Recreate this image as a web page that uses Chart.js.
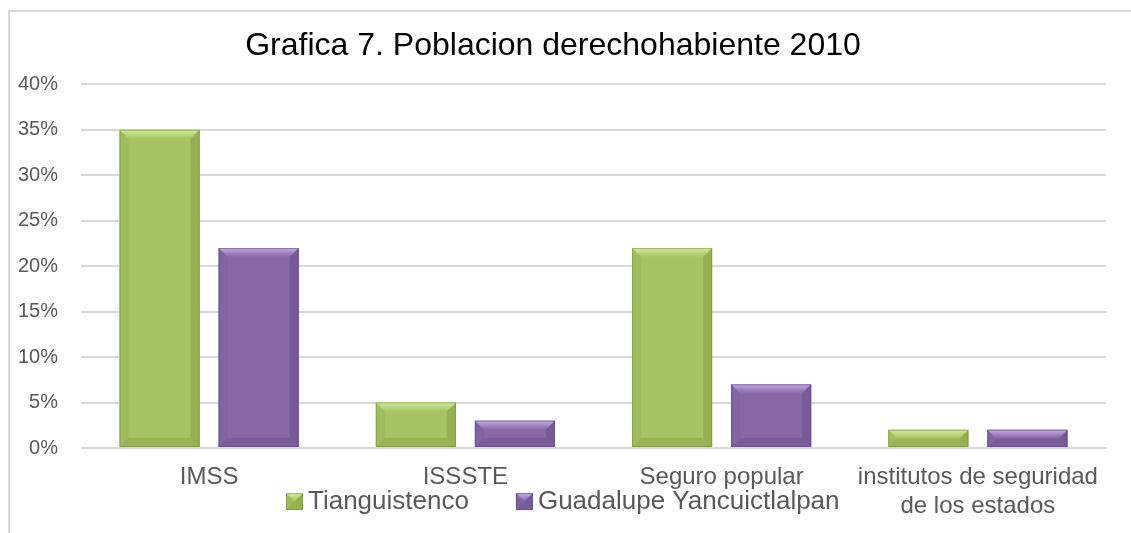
<!DOCTYPE html>
<html>
<head>
<meta charset="utf-8">
<script src="https://cdn.jsdelivr.net/npm/chart.js@4.4.1/dist/chart.umd.min.js"></script>
<style>
  html, body { margin: 0; padding: 0; background: #fff; }
</style>
</head>
<body>
<canvas id="myChart" width="1131" height="533"></canvas>
<script>
/* globals Chart */

const categories = ["IMSS", "ISSSTE", "Seguro popular", ["institutos de seguridad", "de los estados"]];
const seriesNames = ["Tianguistenco", "Guadalupe Yancuictlalpan"];
const tianguistenco = [35, 5, 22, 2];
const guadalupe = [22, 3, 7, 2];
const yMin = 0;
const yMax = 40;
const yStep = 5;

const FONT = "'Liberation Sans', Arial, sans-serif";

// main / light / dark shades per series
const shades = [
  { main: "#a6c463", light: "#d3ec98", dark: "#6f8c36" },
  { main: "#8868a9", light: "#c3aae0", dark: "#5b4280" },
];

function bevel(ctx, left, top, right, bottom, s) {
  const h = bottom - top;
  const b = Math.min(9, h / 2, (right - left) / 2);
  ctx.fillStyle = s.main;
  ctx.fillRect(left, top, right - left, h);
  // top
  const g = ctx.createLinearGradient(0, top, 0, top + b);
  g.addColorStop(0, s.light);
  g.addColorStop(1, s.main);
  ctx.fillStyle = g;
  ctx.beginPath();
  ctx.moveTo(left, top); ctx.lineTo(right, top);
  ctx.lineTo(right - b, top + b); ctx.lineTo(left + b, top + b);
  ctx.closePath(); ctx.fill();
  ctx.fillStyle = s.dark;
  // right
  ctx.globalAlpha = 0.35;
  ctx.beginPath();
  ctx.moveTo(right, top); ctx.lineTo(right, bottom);
  ctx.lineTo(right - b, bottom - b); ctx.lineTo(right - b, top + b);
  ctx.closePath(); ctx.fill();
  // bottom
  ctx.globalAlpha = 0.3;
  ctx.beginPath();
  ctx.moveTo(left, bottom); ctx.lineTo(right, bottom);
  ctx.lineTo(right - b, bottom - b); ctx.lineTo(left + b, bottom - b);
  ctx.closePath(); ctx.fill();
  // left
  ctx.globalAlpha = 0.12;
  ctx.beginPath();
  ctx.moveTo(left, top); ctx.lineTo(left, bottom);
  ctx.lineTo(left + b, bottom - b); ctx.lineTo(left + b, top + b);
  ctx.closePath(); ctx.fill();
  ctx.strokeStyle = s.dark;
  ctx.lineWidth = 1;
  ctx.globalAlpha = 0.5;
  ctx.strokeRect(left + 0.5, top + 0.5, right - left - 1, h - 1);
  ctx.globalAlpha = 1;
}

const bevelPlugin = {
  id: "bevelBars",
  beforeDraw(chart) {
    const ctx = chart.ctx;
    ctx.save();
    ctx.strokeStyle = "#d9d9d9";
    ctx.lineWidth = 2;
    ctx.strokeRect(9, 11, 1200, 600);
    ctx.restore();
  },
  afterDatasetsDraw(chart) {
    const ctx = chart.ctx;
    ctx.save();
    chart.data.datasets.forEach((ds, i) => {
      chart.getDatasetMeta(i).data.forEach((bar) => {
        const left = bar.x - bar.width / 2;
        bevel(ctx, left, bar.y, left + bar.width, bar.base, shades[i]);
      });
    });
    ctx.restore();
  },
  afterDraw(chart) {
    // legend sits among the category labels, as in the original
    const ctx = chart.ctx;
    ctx.save();
    ctx.font = "26px " + FONT;
    ctx.textBaseline = "middle";
    let x = 286;
    const y = 502;
    chart.data.datasets.forEach((ds, i) => {
      bevel(ctx, x, y - 9, x + 17, y + 8, shades[i]);
      ctx.fillStyle = "#595959";
      ctx.fillText(ds.label, x + 22, y);
      x += 22 + ctx.measureText(ds.label).width + 47;
    });
    ctx.restore();
  },
};

const ctx = document.getElementById("myChart").getContext("2d");

/* exported myChart */
const myChart = new Chart(ctx, {
  type: "bar",
  plugins: [bevelPlugin],
  data: {
    labels: categories,
    datasets: [
      {
        label: seriesNames[0],
        data: tianguistenco,
        backgroundColor: shades[0].main,
      },
      {
        label: seriesNames[1],
        data: guadalupe,
        backgroundColor: shades[1].main,
      },
    ],
  },
  options: {
    responsive: false,
    animation: false,
    events: [],
    categoryPercentage: 0.773,
    barPercentage: 0.808,
    layout: { padding: { top: 10, right: 25, left: 0, bottom: 0 } },
    plugins: {
      legend: { display: false },
      tooltip: { enabled: false },
      title: {
        display: true,
        text: "Grafica 7. Poblacion derechohabiente 2010",
        color: "#000",
        font: { family: FONT, size: 32, weight: "normal" },
        padding: { top: 17, bottom: 19 },
      },
    },
    scales: {
      x: {
        grid: { display: false },
        border: { display: false },
        afterFit(scale) { scale.height = 85; },
        ticks: {
          color: "#595959",
          font: { family: FONT, size: 24 },
          padding: 7,
          maxRotation: 0,
          autoSkip: false,
        },
      },
      y: {
        min: yMin,
        max: yMax,
        afterFit(scale) { scale.width = 81; },
        border: { display: false },
        grid: { color: "#d9d9d9", lineWidth: 2, drawTicks: false },
        ticks: {
          stepSize: yStep,
          color: "#595959",
          padding: 23,
          font: { family: FONT, size: 20 },
          callback: (v) => v + "%",
        },
      },
    },
  },
});
</script>
</body>
</html>
